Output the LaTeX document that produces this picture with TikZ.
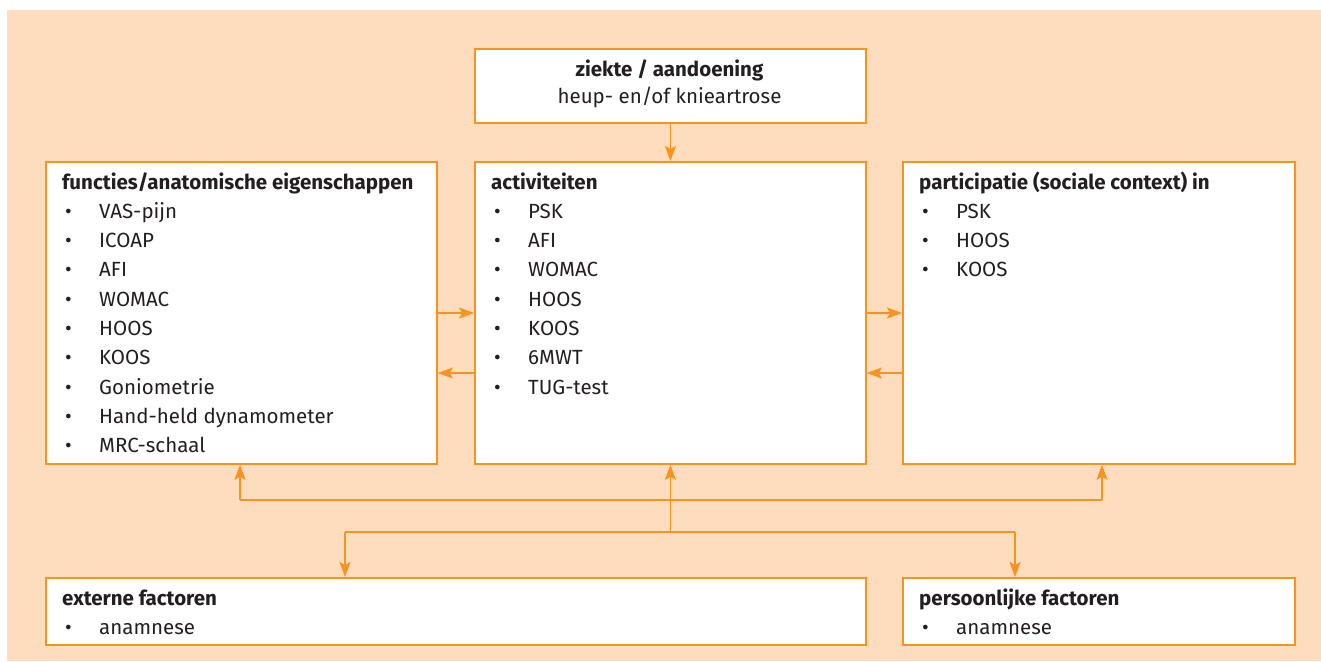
\documentclass[tikz,border=0pt]{standalone}
\usepackage{fontspec}
\setmainfont{Fira Sans}
\usetikzlibrary{arrows.meta}
\definecolor{bgc}{HTML}{FDDDBE}
\definecolor{orng}{HTML}{F7931E}
\definecolor{txt}{HTML}{231F20}
\newcommand{\itm}[1]{\hspace*{3pt}\makebox[34pt][l]{\textbullet}#1}
\tikzset{
  box/.style={draw=orng, line width=1.8pt, fill=white, inner sep=0pt, anchor=north west},
  con/.style={draw=orng, line width=1.4pt},
  arr/.style={con, -{Stealth[length=15pt,width=11pt,inset=3pt]}},
  lbl/.style={anchor=base west, inner sep=0pt, text=txt, font=\fontsize{20.5}{29.3}\selectfont},
  clbl/.style={anchor=base, inner sep=0pt, text=txt, font=\fontsize{20.5}{28}\selectfont},
}
\begin{document}
\begin{tikzpicture}[x=1pt,y=-1pt]
\useasboundingbox (0,0) rectangle (1321,661);
\fill[bgc] (7,10) rectangle (1321,661);
% boxes
\node[box, minimum width=391pt, minimum height=74pt] (zk) at (474,48) {};
\node[box, minimum width=391pt, minimum height=302pt] (fu) at (45,161) {};
\node[box, minimum width=391pt, minimum height=302pt] (ac) at (474,161) {};
\node[box, minimum width=392pt, minimum height=302pt] (pa) at (902,161) {};
\node[box, minimum width=820pt, minimum height=67pt] (ex) at (45,577) {};
\node[box, minimum width=392pt, minimum height=67pt] (pe) at (902,577) {};
% texts
\node[clbl] (zkt) at (669.5,76) {\begin{tabular}[t]{@{}c@{}}\textbf{ziekte / aandoening}\\ heup- en/of knieartrose\end{tabular}};
\node[lbl] (fut) at (62,189) {\begin{tabular}[t]{@{}l@{}}\textbf{functies/anatomische eigenschappen}\\
\itm{VAS-pijn}\\ \itm{ICOAP}\\ \itm{AFI}\\ \itm{WOMAC}\\ \itm{HOOS}\\ \itm{KOOS}\\ \itm{Goniometrie}\\ \itm{Hand-held dynamometer}\\ \itm{MRC-schaal}\end{tabular}};
\node[lbl] (act) at (491,189) {\begin{tabular}[t]{@{}l@{}}\textbf{activiteiten}\\
\itm{PSK}\\ \itm{AFI}\\ \itm{WOMAC}\\ \itm{HOOS}\\ \itm{KOOS}\\ \itm{6MWT}\\ \itm{TUG-test}\end{tabular}};
\node[lbl] (pat) at (919,189) {\begin{tabular}[t]{@{}l@{}}\textbf{participatie (sociale context) in}\\
\itm{PSK}\\ \itm{HOOS}\\ \itm{KOOS}\end{tabular}};
\node[lbl] (ext) at (62,605) {\begin{tabular}[t]{@{}l@{}}\textbf{externe factoren}\\ \itm{anamnese}\end{tabular}};
\node[lbl] (pet) at (919,605) {\begin{tabular}[t]{@{}l@{}}\textbf{persoonlijke factoren}\\ \itm{anamnese}\end{tabular}};
% connectors
\coordinate (yr) at (0,313);
\coordinate (yl) at (0,373);
\draw[arr] (zk.south) -- (ac.north);
\draw[arr] (fu.east |- yr) -- (ac.west |- yr);
\draw[arr] (ac.west |- yl) -- (fu.east |- yl);
\draw[arr] (ac.east |- yr) -- (pa.west |- yr);
\draw[arr] (pa.west |- yl) -- (ac.east |- yl);
\coordinate (hl) at (240,500);
\coordinate (hr) at (1102,500);
\draw[con] (hl) -- (hr);
\draw[arr] (hl) -- (hl |- fu.south);
\draw[arr] (hr) -- (hr |- pa.south);
\coordinate (ll) at (345,532);
\coordinate (lr) at (1015,532);
\coordinate (lm) at (ac.south |- ll);
\draw[con] (ll) -- (lr);
\draw[arr] (lm) -- (ac.south);
\draw[arr] (ll) -- (ll |- ex.north);
\draw[arr] (lr) -- (lr |- pe.north);
\end{tikzpicture}
\end{document}
